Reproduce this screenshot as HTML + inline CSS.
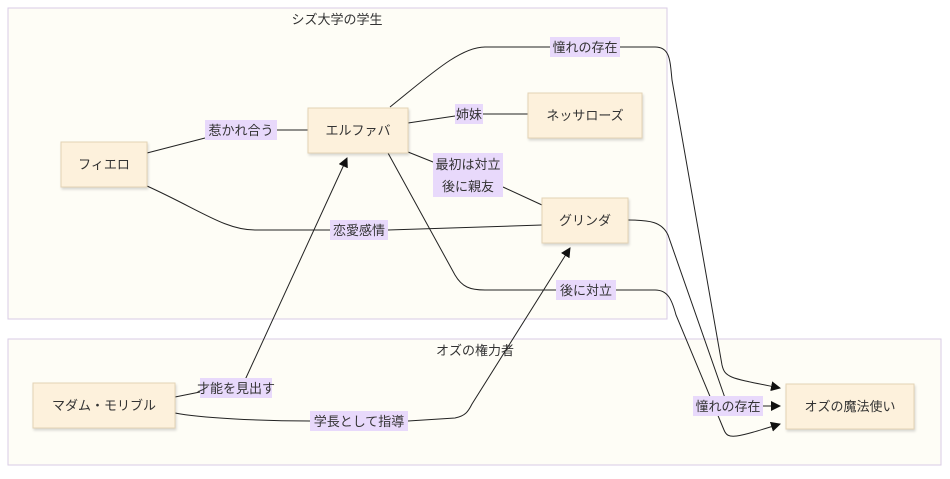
<!DOCTYPE html>
<html><head><meta charset="utf-8"><style>
body{margin:0;background:#fff;}
text{font-family:"Liberation Sans","Noto Sans CJK JP",sans-serif;font-size:13px;fill:#333;}
.n{fill:#fdf1dc;stroke:#e3d3b5;stroke-width:1;}
.c{fill:#fefdf6;stroke:#d8cbe6;stroke-width:1;}
.e{fill:none;stroke:#222;stroke-width:1;}
.l{fill:#e8d9fb;}
</style></head><body>
<svg width="950" height="474" xmlns="http://www.w3.org/2000/svg">
<defs><marker id="a" markerWidth="10" markerHeight="10" refX="9" refY="5" orient="auto" markerUnits="userSpaceOnUse"><path d="M0,0 L10,5 L0,10z" fill="#111"/></marker>
<filter id="s"><feDropShadow dx="1" dy="2" stdDeviation="1.2" flood-color="#000" flood-opacity="0.15"/></filter></defs>
<rect class="c" x="8" y="8" width="659" height="311"/>
<rect class="c" x="8" y="339" width="933" height="126"/>
<text x="337" y="24" text-anchor="middle">シズ大学の学生</text>
<text x="475" y="355" text-anchor="middle">オズの権力者</text>

<path class="e" d="M147,153 L205,138"/><path class="e" d="M277,130 L308,130"/>
<path class="e" d="M408,123 L455,116"/><path class="e" d="M483,114 L528,114"/>
<path class="e" d="M408,152 L433,162"/><path class="e" d="M503,187 L542,205"/>
<path class="e" d="M147,186 C200,210 225,230 255,230 L330,230"/><path class="e" d="M388,230 L542,225"/>
<path class="e" d="M390,107 C430,75 460,47 485,47 L550,47"/><path class="e" d="M620,47 L655,47 C670,47 670,60 672,80 L722,365 C725,378 730,378 780,388" marker-end="url(#a)"/>
<path class="e" d="M388,153 L455,275 C462,287 470,290 485,290 L556,290"/><path class="e" d="M616,290 L655,290 C668,290 672,300 676,315 L724,430 C728,440 735,438 780,424" marker-end="url(#a)"/>
<path class="e" d="M628,220 C650,220 662,222 668,235 L725,398"/><path class="e" d="M763,406 L780,406" marker-end="url(#a)"/>
<path class="e" d="M175,397 L200,392"/><path class="e" d="M245,380 L347,158" marker-end="url(#a)"/>
<path class="e" d="M175,413 C200,418 260,421 310,421"/><path class="e" d="M408,421 L455,418 C465,416 468,412 472,404 L570,248" marker-end="url(#a)"/>

<g filter="url(#s)">
<rect class="n" x="61" y="142" width="86" height="45"/>
<rect class="n" x="308" y="108" width="100" height="45"/>
<rect class="n" x="528" y="93" width="114" height="45"/>
<rect class="n" x="542" y="198" width="86" height="45"/>
<rect class="n" x="33" y="383" width="142" height="45"/>
<rect class="n" x="786" y="384" width="128" height="45"/>
</g>
<text x="104" y="169" text-anchor="middle">フィエロ</text>
<text x="358" y="135" text-anchor="middle">エルファバ</text>
<text x="585" y="120" text-anchor="middle">ネッサローズ</text>
<text x="585" y="225" text-anchor="middle">グリンダ</text>
<text x="104" y="410" text-anchor="middle">マダム・モリブル</text>
<text x="850" y="411" text-anchor="middle">オズの魔法使い</text>

<rect class="l" x="205" y="120" width="72" height="20"/><text x="241" y="135" text-anchor="middle">惹かれ合う</text>
<rect class="l" x="455" y="104" width="28" height="20"/><text x="469" y="119" text-anchor="middle">姉妹</text>
<rect class="l" x="433" y="153" width="70" height="44"/><text x="468" y="169" text-anchor="middle">最初は対立</text><text x="468" y="191" text-anchor="middle">後に親友</text>
<rect class="l" x="330" y="220" width="58" height="20"/><text x="359" y="235" text-anchor="middle">恋愛感情</text>
<rect class="l" x="550" y="37" width="70" height="20"/><text x="585" y="52" text-anchor="middle">憧れの存在</text>
<rect class="l" x="556" y="280" width="60" height="20"/><text x="586" y="295" text-anchor="middle">後に対立</text>
<rect class="l" x="200" y="378" width="72" height="20"/><text x="236" y="393" text-anchor="middle">才能を見出す</text>
<rect class="l" x="310" y="411" width="98" height="20"/><text x="359" y="426" text-anchor="middle">学長として指導</text>
<rect class="l" x="693" y="396" width="70" height="20"/><text x="728" y="411" text-anchor="middle">憧れの存在</text>
</svg>
</body></html>
